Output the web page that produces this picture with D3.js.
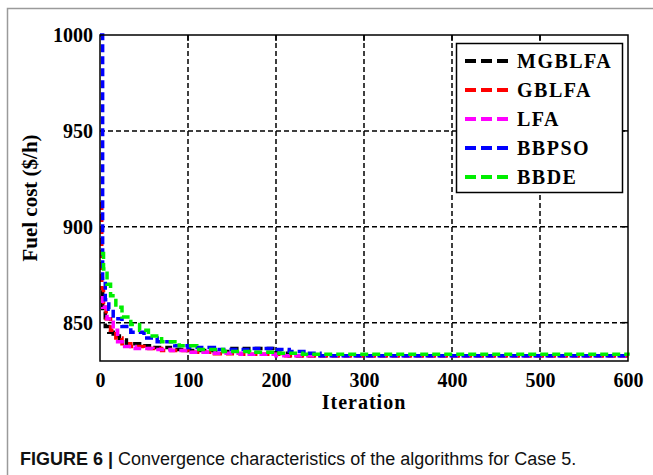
<!DOCTYPE html>
<html><head><meta charset="utf-8">
<script src="https://cdn.jsdelivr.net/npm/d3@7"></script>
<style>body{margin:0;background:#fff;} svg{display:block;}</style>
</head><body>
<svg id="c" width="653" height="475"></svg>
<script>
const seriesNames = ["MGBLFA","GBLFA","LFA","BBPSO","BBDE"];
const seriesColors = ["#000000","#ff0000","#ff00ff","#0000ff","#00ee00"];
const xTicks = [0,100,200,300,400,500,600];
const yTicks = [850,900,950,1000];

const mgblfaIter = [1,3,6,10,15,22,30,45,60,80,100,130,150,185,200,215,600];
const mgblfaVal  = [866,856,848,845,843,841,839,838,837,836,835.5,835,836.5,836.5,834,832.8,832.8];
const gblfaIter  = [0,2,4,7,12,18,25,35,50,70,100,130,160,190,205,600];
const gblfaVal   = [912,868,858,852,846,842,839,837.5,836.5,835.5,834.5,833.8,833.5,833.5,832.8,832.8];
const lfaIter    = [0,3,8,15,20,28,40,60,80,100,130,160,200,600];
const lfaVal     = [863,858,852,846,840,837.5,836.5,836,835.5,834.5,834,833.5,832.8,832.8];
const bbpsoIter  = [0,3,6,10,15,25,35,50,65,85,100,130,150,170,195,215,235,250,600];
const bbpsoVal   = [1000,873,862,857,852,848,845,842,840,838,837,836,836,836.5,836,835,834,832.8,832.8];
const bbdeIter   = [1,4,8,12,18,25,35,45,55,70,90,110,140,170,200,230,600];
const bbdeVal    = [886,878,870,864,858,853,849,846,843,840,838,836,835,834.5,834,833.5,832.8];

const seriesIters = [mgblfaIter,gblfaIter,lfaIter,bbpsoIter,bbdeIter];
const seriesVals  = [mgblfaVal,gblfaVal,lfaVal,bbpsoVal,bbdeVal];

const svg = d3.select("#c");
// outer figure frame
svg.append("rect").attr("x",7.5).attr("y",8.5).attr("width",700).attr("height",500)
  .attr("fill","none").attr("stroke","#9a9a9a").attr("stroke-width",1.5);

const L=100, R=628, T=35, B=361;
const x = d3.scaleLinear().domain([0,600]).range([L,R]);
const y = d3.scaleLinear().domain([830,1000]).range([B,T]);

// grid
const g = svg.append("g");
g.selectAll(".vg").data(xTicks.filter(d=>d>0&&d<600)).join("line")
  .attr("x1",d=>x(d)).attr("x2",d=>x(d)).attr("y1",T).attr("y2",B)
  .attr("stroke","#000").attr("stroke-width",1.5).attr("stroke-dasharray","5,3");
g.selectAll(".hg").data(yTicks.filter(d=>d<1000)).join("line")
  .attr("x1",L).attr("x2",R).attr("y1",d=>y(d)).attr("y2",d=>y(d))
  .attr("stroke","#000").attr("stroke-width",1.5).attr("stroke-dasharray","5,3");

// series
const line = d3.line().x(d=>x(d[0])).y(d=>y(d[1])).curve(d3.curveStepAfter);
seriesNames.forEach((n,i)=>{
  const pts = seriesIters[i].map((it,j)=>[it,seriesVals[i][j]]);
  svg.append("path").datum(pts).attr("d",line)
    .attr("fill","none").attr("stroke",seriesColors[i]).attr("stroke-width",3.5)
    .attr("stroke-dasharray","8,4");
});

// box
svg.append("rect").attr("x",L).attr("y",T).attr("width",R-L).attr("height",B-T)
  .attr("fill","none").attr("stroke","#000").attr("stroke-width",1.5);

// axes
const fontSerif = "'Liberation Serif','Times New Roman',serif";
const xAxis = d3.axisBottom(x).tickValues(xTicks).tickSize(0).tickPadding(12).tickFormat(d3.format("d"));
const xa = svg.append("g").attr("transform",`translate(0,${B})`).call(xAxis);
const yAxis = d3.axisLeft(y).tickValues(yTicks).tickSize(0).tickPadding(7).tickFormat(d3.format("d"));
const ya = svg.append("g").attr("transform",`translate(${L},0)`).call(yAxis);
[xa,ya].forEach(a=>{
  a.select(".domain").remove();
  a.selectAll("text").attr("font-family",fontSerif).attr("font-weight","bold")
    .attr("font-size",20).attr("fill","#000");
});
// inward ticks top/right
svg.selectAll(".tt").data(xTicks.filter(d=>d>0&&d<600)).join("line")
  .attr("x1",d=>x(d)).attr("x2",d=>x(d)).attr("y1",T).attr("y2",T+6)
  .attr("stroke","#000").attr("stroke-width",1.5);
svg.selectAll(".rt").data(yTicks.filter(d=>d<1000)).join("line")
  .attr("x1",R).attr("x2",R-6).attr("y1",d=>y(d)).attr("y2",d=>y(d))
  .attr("stroke","#000").attr("stroke-width",1.5);

// axis titles
svg.append("text").attr("x",(L+R)/2).attr("y",409).attr("text-anchor","middle")
  .attr("font-family",fontSerif).attr("font-weight","bold").attr("font-size",20)
  .attr("letter-spacing",1).text("Iteration");
svg.append("text").attr("transform",`translate(37,198) rotate(-90)`).attr("text-anchor","middle")
  .attr("font-family",fontSerif).attr("font-weight","bold").attr("font-size",21)
  .text("Fuel cost ($/h)");

// legend
const lg = svg.append("g");
lg.append("rect").attr("x",456.5).attr("y",43.5).attr("width",166).attr("height",149)
  .attr("fill","#fff").attr("stroke","#000").attr("stroke-width",1.5);
seriesNames.forEach((n,i)=>{
  const yy = 61 + i*29;
  lg.append("line").attr("x1",465).attr("x2",512).attr("y1",yy).attr("y2",yy)
    .attr("stroke",seriesColors[i]).attr("stroke-width",4).attr("stroke-dasharray","11,5");
  lg.append("text").attr("x",517).attr("y",yy+7).attr("font-family",fontSerif)
    .attr("font-weight","bold").attr("font-size",20).attr("letter-spacing",1.5).text(n);
});

// caption
const cap = svg.append("text").attr("x",20).attr("y",465)
  .attr("font-family","'Liberation Sans',Arial,sans-serif").attr("font-size",18).attr("fill","#111");
cap.append("tspan").attr("font-weight","bold").text("FIGURE 6 | ");
cap.append("tspan").text("Convergence characteristics of the algorithms for Case 5.");
</script>
</body></html>
